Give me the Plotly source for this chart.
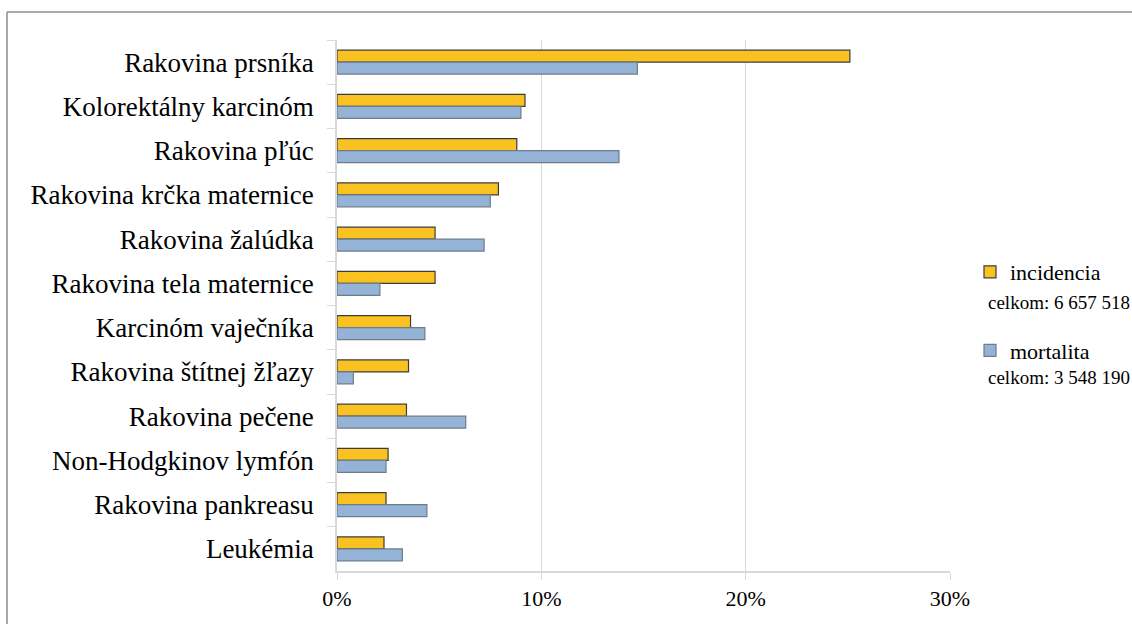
import plotly.graph_objects as go

categories = ["Rakovina prsníka", "Kolorektálny karcinóm", "Rakovina pľúc",
              "Rakovina krčka maternice", "Rakovina žalúdka", "Rakovina tela maternice",
              "Karcinóm vaječníka", "Rakovina štítnej žľazy", "Rakovina pečene",
              "Non-Hodgkinov lymfón", "Rakovina pankreasu", "Leukémia"]
incidencia = [25.1, 9.2, 8.8, 7.9, 4.8, 4.8, 3.6, 3.5, 3.4, 2.5, 2.4, 2.3]
mortalita = [14.7, 9.0, 13.8, 7.5, 7.2, 2.1, 4.3, 0.8, 6.3, 2.4, 4.4, 3.2]
series_names = ["incidencia", "mortalita"]
totals = ["celkom: 6 657 518", "celkom: 3 548 190"]
x_tickvals = [0, 10, 20, 30]
x_ticktext = ["0%", "10%", "20%", "30%"]

FONT = "Liberation Serif, Times New Roman, serif"
W, H = 1132, 624
L, R, T, B = 337, 182, 40, 53
pw, ph = W - L - R, H - T - B

def px(x):
    return (x - L) / pw

def py(y):
    return (H - B - y) / ph

fig = go.Figure()
fig.add_trace(go.Bar(
    y=categories, x=incidencia, orientation="h", name=series_names[0],
    legendgroup="a",
    marker=dict(color="#F9C220", line=dict(color="#3C3C3C", width=1.2)),
))
fig.add_trace(go.Bar(
    y=categories, x=mortalita, orientation="h", name=series_names[1],
    legendgroup="b",
    marker=dict(color="#95B3D7", line=dict(color="#6E7C8C", width=1.2)),
))

fig.update_layout(
    width=W, height=H, autosize=False,
    margin=dict(l=L, r=R, t=T, b=B),
    paper_bgcolor="white", plot_bgcolor="white",
    barmode="group", bargap=0.46, bargroupgap=0,
    font=dict(family=FONT, color="#000000"),
    showlegend=True,
    legend=dict(
        x=px(970), y=py(251), xanchor="left", yanchor="top",
        traceorder="grouped", tracegroupgap=47,
        font=dict(family=FONT, size=22, color="#000000"),
        bgcolor="rgba(0,0,0,0)", itemwidth=30,
    ),
    xaxis=dict(
        range=[0, 30], tickvals=x_tickvals, ticktext=x_ticktext,
        showgrid=True, gridcolor="#D9D9D9", gridwidth=1,
        zeroline=False, showline=True, linecolor="#D9D9D9", linewidth=1.5,
        ticks="outside", ticklen=7, tickcolor="#D9D9D9",
        tickfont=dict(family=FONT, size=22, color="#000000"),
        fixedrange=True,
    ),
    yaxis=dict(
        autorange="reversed", tickson="boundaries",
        showgrid=False, zeroline=False,
        showline=True, linecolor="#D9D9D9", linewidth=1.5,
        ticks="outside", ticklen=8, tickcolor="#D9D9D9",
        ticklabelstandoff=16,
        tickfont=dict(family=FONT, size=27, color="#000000"),
        fixedrange=True,
    ),
)

# totals under each legend entry
for txt, yc in zip(totals, [302, 377]):
    fig.add_annotation(
        x=px(986), y=py(yc), xref="paper", yref="paper",
        text=txt, showarrow=False, xanchor="left", yanchor="middle",
        font=dict(family=FONT, size=19, color="#000000"),
    )

# outer frame (left and top edges)
fig.add_shape(type="line", xref="paper", yref="paper",
              x0=px(7), x1=px(7), y0=py(12), y1=py(640),
              line=dict(color="#8C8C8C", width=1.5))
fig.add_shape(type="line", xref="paper", yref="paper",
              x0=px(7), x1=px(1140), y0=py(12), y1=py(12),
              line=dict(color="#8C8C8C", width=1.5))

fig.write_html("out.html")
